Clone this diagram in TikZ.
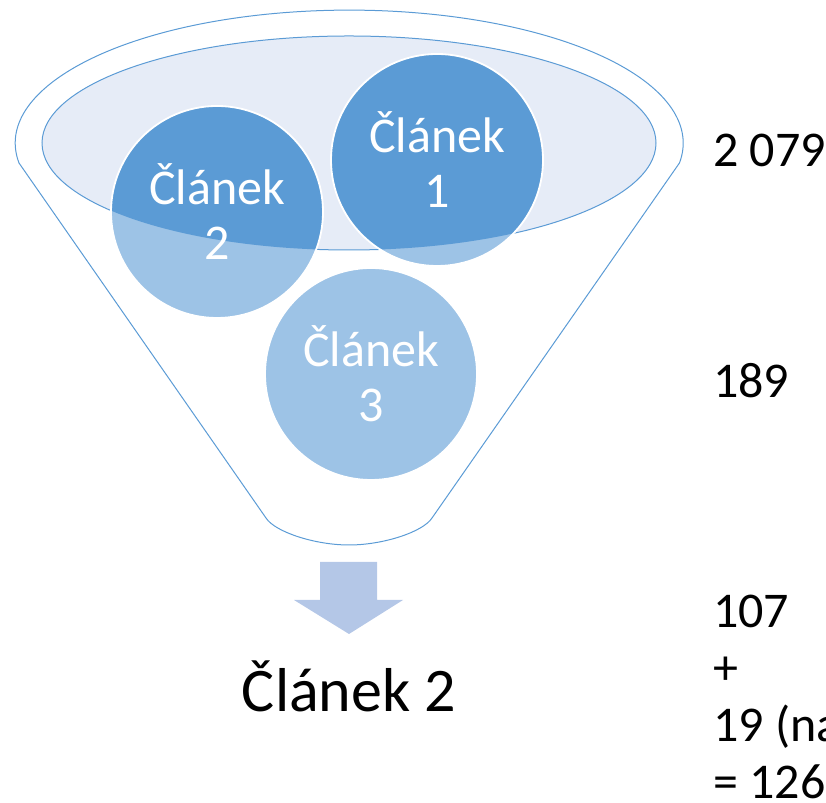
\documentclass[tikz,border=0pt]{standalone}
\usepackage{fontspec}
\setmainfont{Carlito}
\definecolor{dark}{HTML}{5B9BD5}
\definecolor{light}{HTML}{9DC3E6}
\definecolor{pale}{HTML}{E6ECF7}
\definecolor{arrowc}{HTML}{B4C7E7}
\tikzset{
  funnelline/.style={draw=dark, line width=1pt},
  article/.style={circle, minimum size=212pt, inner sep=0pt, fill=light, draw=white, line width=1.8pt,
    text=white, align=center, font=\fontsize{50}{55}\selectfont,
    path picture={\fill[dark] (ec) ellipse [x radius=307pt, y radius=107pt];}},
  count/.style={anchor=base west, inner sep=0pt, align=left, font=\fontsize{50}{57}\selectfont}
}
\begin{document}
\begin{tikzpicture}[x=1pt, y=1pt]
\useasboundingbox (0,0) rectangle (826,802);
% funnel outline
\coordinate (ec) at (349,659);
\draw[funnelline, line join=round] (19,639) arc[start angle=188.6, end angle=-8.6, x radius=334pt, y radius=133pt]
  -- (432,284) .. controls (423,270) and (383,257) .. (349,257)
  .. controls (315,257) and (275,270) .. (266,284) -- cycle;
% inner ellipse
\draw[funnelline, fill=pale] (ec) ellipse [x radius=307pt, y radius=107pt];
% articles
\node[article] (c2) at (217,590) {Článek\\2};
\node[article] (c1) at (437,642) {Článek\\1};
\node[article, path picture={}] (c3) at (371,428) {Článek\\3};
% arrow
\fill[arrowc] (320,240) -- (377,240) -- (377,202) -- (403,202) -- (349,168) -- (294,202) -- (320,202) -- cycle;
% result
\node[anchor=base, inner sep=0pt, font=\fontsize{62}{70}\selectfont] (res) at (349,90) {Článek 2};
% counts
\node[count] (n1) at (713,635) {2 079};
\node[count] (n2) at (713,404) {189};
\node[count] (n3) at (713,3) {107\\+\\19 (na\\= 126};
\end{tikzpicture}
\end{document}
